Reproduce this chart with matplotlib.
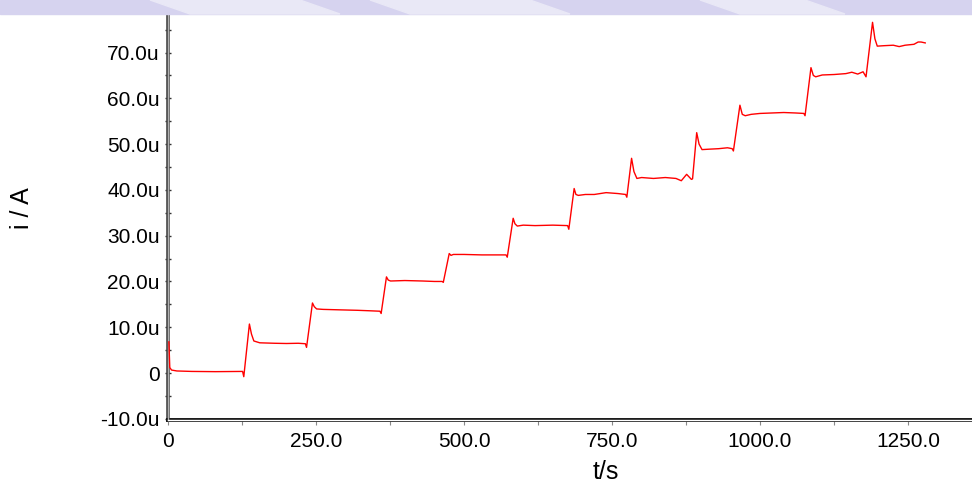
import matplotlib
matplotlib.use("Agg")
import matplotlib.pyplot as plt
from matplotlib.patches import Rectangle, Polygon
from matplotlib.lines import Line2D
from matplotlib.ticker import MultipleLocator

plt.rcParams['font.family'] = ['Liberation Sans', 'DejaVu Sans']

# current trace (t in s, i in uA)
t_s = [1.5, 3, 6, 15, 40, 80, 126, 128, 137.5, 141, 145, 155, 180, 200, 220, 232,
       234, 244, 247, 251, 262, 290, 320, 340, 358, 360, 369, 372, 376, 400,
       430, 450, 463, 465, 475, 478, 482, 500, 530, 555, 571, 573, 583, 586,
       590, 600, 620, 650, 675, 677, 686, 689, 693, 705, 720, 740, 760, 773,
       775, 783, 787, 792, 800, 820, 840, 858, 867, 876, 884, 886, 893, 897,
       902, 915, 930, 945, 953, 955, 966, 970, 975, 985, 1000, 1020, 1040,
       1060, 1074, 1076, 1086, 1090, 1094, 1105, 1125, 1145, 1155, 1165, 1174,
       1179, 1190, 1194, 1198, 1210, 1225, 1235, 1245, 1260, 1267, 1272, 1279]
i_uA = [6.8, 1.2, 0.65, 0.45, 0.35, 0.3, 0.35, -0.8, 10.7, 8.5, 7.0, 6.6, 6.5,
        6.45, 6.5, 6.4, 5.6, 15.3, 14.5, 14.0, 13.9, 13.8, 13.7, 13.6, 13.5,
        13.0, 21.0, 20.3, 20.1, 20.2, 20.1, 20.0, 20.0, 19.8, 26.1, 25.7, 25.9,
        25.9, 25.8, 25.8, 25.8, 25.3, 33.8, 32.6, 32.1, 32.3, 32.2, 32.3, 32.2,
        31.4, 40.3, 39.0, 38.8, 39.0, 39.0, 39.4, 39.2, 39.0, 38.4, 46.9, 44.0,
        42.5, 42.7, 42.5, 42.7, 42.5, 42.0, 43.4, 42.3, 42.4, 52.5, 50.0, 48.8,
        48.9, 49.0, 49.2, 49.0, 48.5, 58.5, 56.5, 56.2, 56.5, 56.7, 56.8, 56.9,
        56.8, 56.7, 56.2, 66.7, 65.0, 64.7, 65.1, 65.2, 65.4, 65.7, 65.3, 65.8,
        64.7, 76.6, 73.0, 71.4, 71.5, 71.6, 71.3, 71.6, 71.8, 72.3, 72.3, 72.1]

y_ticks = [-10, 0, 10, 20, 30, 40, 50, 60, 70]
y_labels = ["-10.0u", "0", "10.0u", "20.0u", "30.0u", "40.0u", "50.0u", "60.0u", "70.0u"]
x_ticks = [0, 250, 500, 750, 1000, 1250]
x_labels = ["0", "250.0", "500.0", "750.0", "1000.0", "1250.0"]

W, H = 972, 484
fig = plt.figure(figsize=(W / 100, H / 100), dpi=100)

# light watermark strip along the top
band_h = 14 / H
fig.patches.append(Rectangle((0, 1 - band_h), 1, band_h, transform=fig.transFigure,
                             color='#d6d3ef', zorder=0))
for x0, x1 in [(150, 300), (370, 530), (700, 805)]:
    pts = [(x0 / W, 1), (x1 / W, 1), ((x1 + 40) / W, 1 - band_h), ((x0 + 40) / W, 1 - band_h)]
    fig.patches.append(Polygon(pts, closed=True, transform=fig.transFigure,
                               color='#e9e8f6', zorder=0))

left, bottom, top = 168 / W, (H - 420) / H, (H - 15) / H
ax = fig.add_axes([left, bottom, 1 - left, top - bottom])

ax.plot(t_s, i_uA, color='#ff0000', lw=1.0, zorder=4)

ax.set_xlim(0, 1358)
ax.set_ylim(-10.26, 78.2)

ax.set_yticks(y_ticks)
ax.set_yticklabels(y_labels)
ax.yaxis.set_minor_locator(MultipleLocator(5))
ax.set_xticks(x_ticks)
ax.set_xticklabels(x_labels)
ax.xaxis.set_minor_locator(MultipleLocator(125))

ax.tick_params(axis='y', which='both', direction='inout', length=5, width=1,
               color='#333333', pad=3.5, labelsize=15)
ax.tick_params(axis='x', which='both', direction='out', length=3.6, width=0.8,
               color='#888888', pad=5, labelsize=15)

for s in ['top', 'right']:
    ax.spines[s].set_visible(False)
ax.spines['left'].set_linewidth(2.6)
ax.spines['left'].set_color('#444444')
ax.spines['bottom'].set_linewidth(2.8)
ax.spines['bottom'].set_color('#111111')
ax.add_line(Line2D([0, 0], [0, 1], transform=ax.transAxes, color='#b0b0b0',
                   lw=1.0, clip_on=False, zorder=3))
ax.add_line(Line2D([0, 1], [0, 0], transform=ax.transAxes, color='white',
                   lw=1.0, clip_on=False, zorder=3))

fig.text(22 / W, 1 - 208 / H, "i / A", rotation=90, ha='center', va='center', fontsize=18)
fig.text(606 / W, 1 - 472 / H, "t/s", ha='center', va='center', fontsize=18)

fig.savefig("out.png", dpi=100)
